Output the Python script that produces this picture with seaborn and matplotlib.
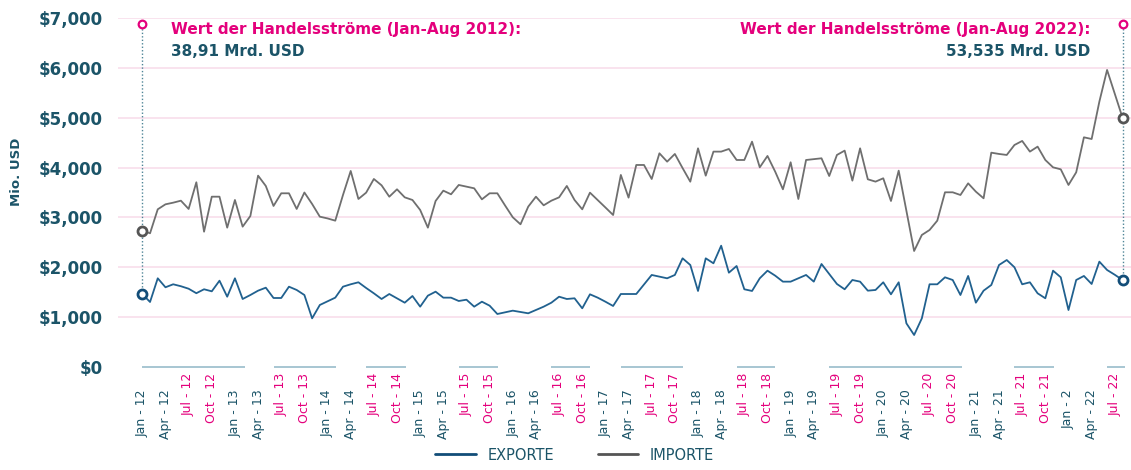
import matplotlib
matplotlib.use("Agg")
import matplotlib.pyplot as plt
import matplotlib.transforms as mtransforms
from matplotlib.lines import Line2D
from matplotlib.ticker import FuncFormatter
import seaborn as sns
import pandas as pd
import numpy as np

# --- Daten (Mio. USD, monatlich Jan 2012 - Aug 2022) ---
monate = pd.date_range("2012-01-01", "2022-08-01", freq="MS")

exporte = [1464, 1304, 1779, 1599, 1659, 1620, 1570, 1480, 1559, 1518, 1731, 1410,
           1779, 1364, 1444, 1531, 1591, 1384, 1384, 1611, 1545, 1444,
           976, 1244, 1318, 1391, 1611, 1659, 1699, 1585, 1478, 1364, 1464, 1378,
           1290, 1424, 1210, 1431, 1511, 1391, 1391, 1324, 1350,
           1210, 1310, 1230, 1063, 1097, 1130, 1103, 1077, 1143, 1210, 1290,
           1410, 1364, 1378, 1177, 1458, 1391, 1310, 1224, 1464, 1464,
           1464, 1655, 1846, 1812, 1779, 1846, 2180, 2046, 1525, 2180, 2080,
           2433, 1892, 2026, 1559, 1525, 1779, 1932, 1832, 1712, 1712, 1779,
           1846, 1712, 2066, 1866, 1665, 1559, 1745, 1712, 1531, 1545, 1699,
           1458, 1699, 876, 642, 976, 1659, 1659, 1799, 1745, 1444, 1826,
           1290, 1531, 1645, 2046, 2146, 2000, 1659, 1699, 1478, 1378, 1932,
           1799, 1143, 1745, 1826, 1665, 2113, 1946, 1850, 1745]

importe = [2734, 2682, 3163, 3263, 3296, 3336, 3170, 3705, 2714, 3416, 3416, 2795,
           3350, 2815, 3029, 3838, 3631, 3230, 3484, 3484, 3170, 3500,
           3270, 3015, 2980, 2935, 3450, 3932, 3370, 3497, 3771, 3644, 3416, 3564,
           3403, 3350, 3150, 2795, 3330, 3537, 3464, 3651, 3617,
           3584, 3363, 3484, 3484, 3240, 3003, 2862, 3216, 3416, 3243, 3336,
           3403, 3631, 3350, 3163, 3497, 3350, 3200, 3049, 3852, 3397,
           4052, 4052, 3771, 4286, 4119, 4273, 3990, 3717, 4386, 3838, 4320,
           4320, 4373, 4152, 4152, 4520, 4005, 4233, 3918, 3564, 4106, 3370,
           4152, 4170, 4186, 3831, 4253, 4340, 3738, 4386, 3765, 3718, 3785,
           3330, 3938, 3130, 2327, 2648, 2748, 2935, 3504, 3504, 3450, 3684,
           3517, 3384, 4299, 4273, 4253, 4453, 4534, 4320, 4420, 4152, 4005,
           3965, 3651, 3905, 4607, 4573, 5322, 5958, 5480, 5001]

tick_labels = ["Jan - 12", "Apr - 12", "Jul - 12", "Oct - 12",
               "Jan - 13", "Apr - 13", "Jul - 13", "Oct - 13",
               "Jan - 14", "Apr - 14", "Jul - 14", "Oct - 14",
               "Jan - 15", "Apr - 15", "Jul - 15", "Oct - 15",
               "Jan - 16", "Apr - 16", "Jul - 16", "Oct - 16",
               "Jan - 17", "Apr - 17", "Jul - 17", "Oct - 17",
               "Jan - 18", "Apr - 18", "Jul - 18", "Oct - 18",
               "Jan - 19", "Apr - 19", "Jul - 19", "Oct - 19",
               "Jan - 20", "Apr - 20", "Jul - 20", "Oct - 20",
               "Jan - 21", "Apr - 21", "Jul - 21", "Oct - 21",
               "Jan - 2", "Apr - 22", "Jul - 22"]

# Abschnitte der Grundlinie (Monatsindex von/bis)
grundlinie_von = [0, 17, 29, 41, 53, 62, 77, 89, 113, 125]
grundlinie_bis = [13.3, 25.1, 34.2, 46.1, 58, 70, 82, 106.2, 118.1, 127.3]

text_links = ["Wert der Handelsströme (Jan-Aug 2012):", "38,91 Mrd. USD"]
text_rechts = ["Wert der Handelsströme (Jan-Aug 2022):", "53,535 Mrd. USD"]

# --- Farben ---
PINK = "#e4007c"
TEAL = "#1b5468"
BLAU = "#21618f"
BLAU_DUNKEL = "#124d78"
GRAU = "#6f6f6f"
GRAU_DUNKEL = "#555555"
RASTER = "#f8dbe9"

sns.set_style("white")
plt.rcParams["font.family"] = ["DejaVu Sans"]

df = pd.DataFrame({"idx": np.arange(len(monate)), "EXPORTE": exporte, "IMPORTE": importe})
df_long = df.melt(id_vars="idx", var_name="serie", value_name="wert")

fig = plt.figure(figsize=(11.31, 4.70), dpi=100)
ax = fig.add_axes([118 / 1131, 103 / 470, 1013 / 1131, 349 / 470])

sns.lineplot(data=df_long, x="idx", y="wert", hue="serie",
             palette={"EXPORTE": BLAU, "IMPORTE": GRAU},
             linewidth=1.3, legend=False, ax=ax)

ax.set_xlim(-3.15, 128.1)
ax.set_ylim(0, 7000)

# y-Achse
ax.set_yticks(np.arange(0, 7001, 1000))
ax.yaxis.set_major_formatter(FuncFormatter(lambda v, p: f"${v:,.0f}"))
ax.tick_params(axis="y", length=0, pad=11, labelsize=12, labelcolor=TEAL)
for lab in ax.get_yticklabels():
    lab.set_fontweight("bold")
ax.yaxis.grid(True, color=RASTER, linewidth=1.1)
ax.get_ygridlines()[0].set_visible(False)
ax.set_xlabel("")
ax.set_ylabel("")
fig.text(17 / 1131, 1 - 172 / 470, "Mio. USD", rotation=90, ha="center", va="center",
         fontsize=9.5, fontweight="bold", color=TEAL)

# x-Achse
ax.set_xticks(np.arange(0, len(monate), 3)[:len(tick_labels)])
ax.set_xticklabels(tick_labels, rotation=90)
ax.tick_params(axis="x", length=0, pad=4, labelsize=9)
verschiebung = mtransforms.ScaledTranslation(0, -17 / 100, fig.dpi_scale_trans)
for lab in ax.get_xticklabels():
    txt = lab.get_text()
    if txt.startswith("Jul") or txt.startswith("Oct"):
        lab.set_color(PINK)
    else:
        lab.set_color(TEAL)
        lab.set_transform(lab.get_transform() + verschiebung)

for s in ax.spines.values():
    s.set_visible(False)

ax.hlines([0] * len(grundlinie_von), grundlinie_von, grundlinie_bis,
          color="#8fb6c6", linewidth=1.1, clip_on=False)

# Markierungen Anfang / Ende
erster, letzter = 0, len(monate) - 1
marke_oben = 6880
for i in (erster, letzter):
    ax.plot([i, i], [exporte[i], marke_oben], ls=(0, (1, 1.5)), color="#4f8597",
            linewidth=1, clip_on=False, zorder=3)
    ax.plot(i, importe[i], "o", ms=6.5, mfc="white", mec=GRAU_DUNKEL, mew=2, clip_on=False, zorder=4)
    ax.plot(i, exporte[i], "o", ms=6.5, mfc="white", mec=BLAU_DUNKEL, mew=2, clip_on=False, zorder=4)
    ax.plot(i, marke_oben, "o", ms=5.5, mfc="white", mec=PINK, mew=1.6, clip_on=False, zorder=4)

ax.annotate(text_links[0], (erster, marke_oben), xytext=(21, -7.5), textcoords="offset points",
            ha="left", va="baseline", fontsize=11, fontweight="bold", color=PINK)
ax.annotate(text_links[1], (erster, marke_oben), xytext=(21, -23), textcoords="offset points",
            ha="left", va="baseline", fontsize=11, fontweight="bold", color=TEAL)
ax.annotate(text_rechts[0], (letzter, marke_oben), xytext=(-23, -7.5), textcoords="offset points",
            ha="right", va="baseline", fontsize=11, fontweight="bold", color=PINK)
ax.annotate(text_rechts[1], (letzter, marke_oben), xytext=(-23, -23), textcoords="offset points",
            ha="right", va="baseline", fontsize=11, fontweight="bold", color=TEAL)

# Legende
griffe = [Line2D([0], [0], color=BLAU_DUNKEL, linewidth=2),
          Line2D([0], [0], color=GRAU_DUNKEL, linewidth=2)]
leg = fig.legend(griffe, ["EXPORTE", "IMPORTE"], loc="lower center",
                 bbox_to_anchor=(0.508, -0.012), ncol=2, frameon=False,
                 handlelength=2.8, columnspacing=3.0, fontsize=10.5)
for t in leg.get_texts():
    t.set_color(TEAL)

fig.savefig("out.png", dpi=100)
